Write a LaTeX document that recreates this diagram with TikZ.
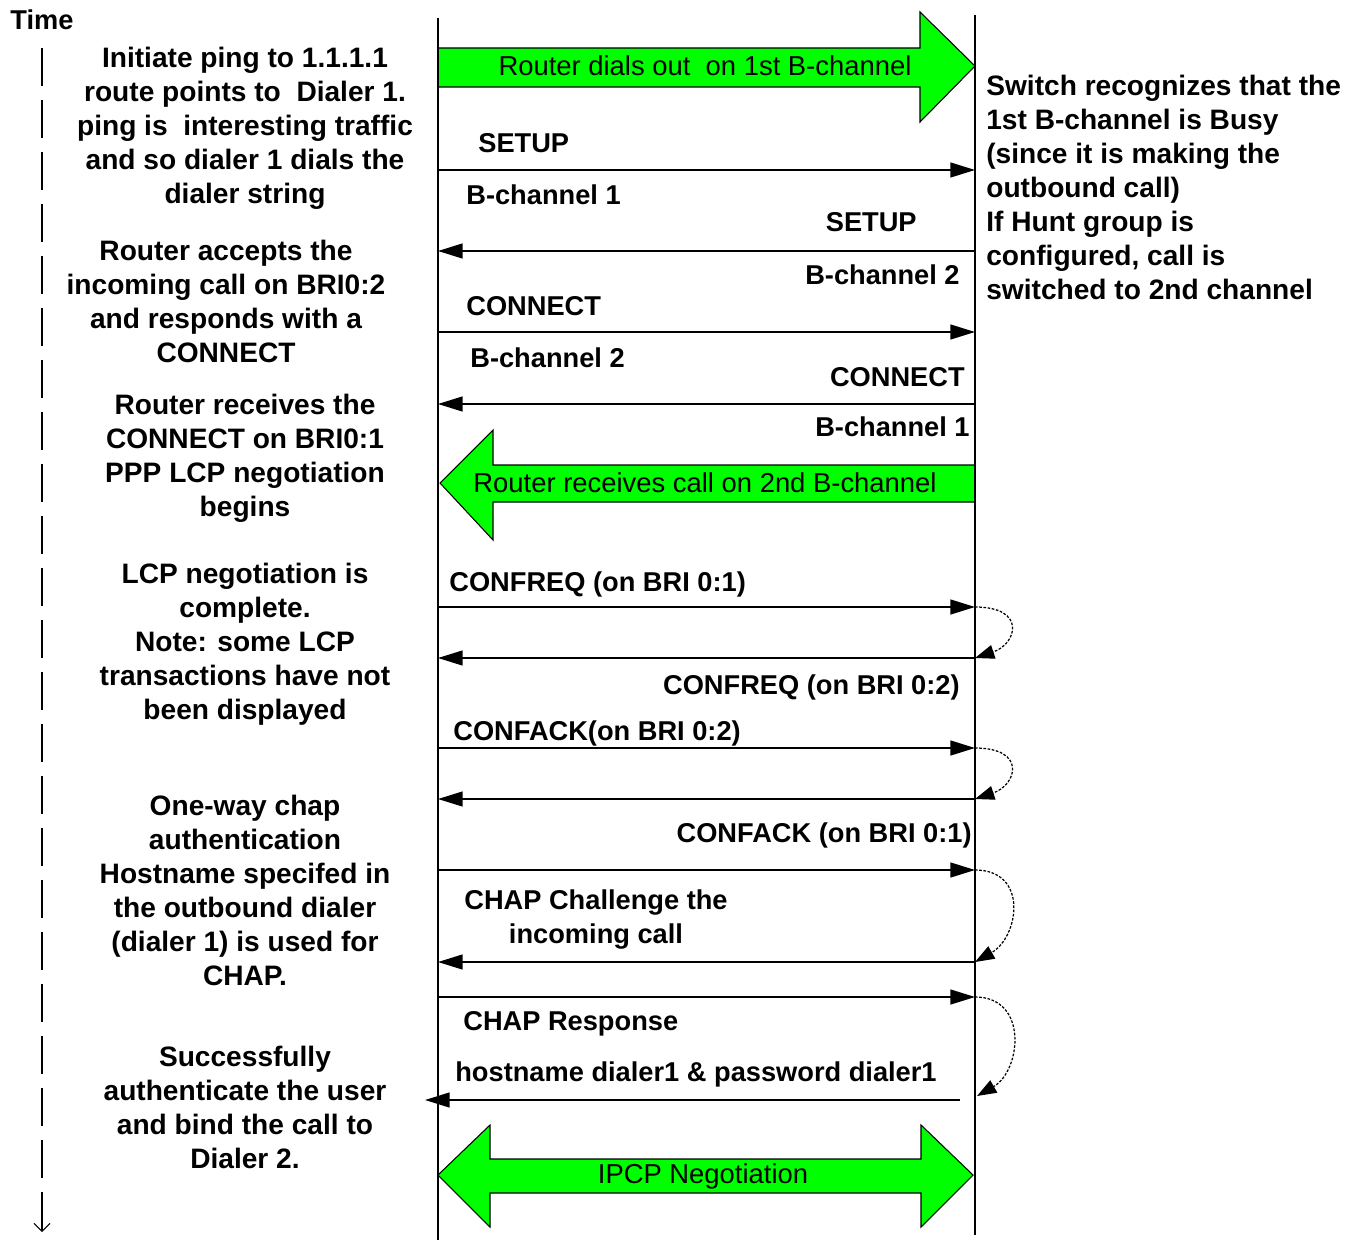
\documentclass[tikz,border=0pt]{standalone}
\usepackage{fontspec}
\setmainfont{Liberation Sans}
\usetikzlibrary{arrows.meta, calc}

\begin{document}
\begin{tikzpicture}[x=0.02cm, y=-0.02cm,
    note/.style={font=\bfseries\fontsize{16}{19.35}\selectfont, align=center, inner sep=0pt},
    msglbl/.style={font=\bfseries\fontsize{15.5}{19.35}\selectfont, inner sep=0pt},
    bandlbl/.style={font=\fontsize{15.6}{19}\selectfont, inner sep=0pt, anchor=base},
    band/.style={fill=green, draw=black, line width=0.6pt},
    life/.style={line width=1pt},
    msg/.style={line width=0.8pt, -{Triangle[length=14pt,width=8.5pt]}},
    loopback/.style={line width=0.7pt, dash pattern=on 1.5pt off 0.9pt,
        -{Triangle[length=11pt,width=8pt]}}]
    \useasboundingbox (0,0) rectangle (1358,1240);

    %--- time axis
    \node[msglbl, anchor=base west] (Time) at (10,30) {Time};
    \coordinate (TimeTop) at (42,48);
    \coordinate (TimeEnd) at (42,1232);
    \draw[line width=1pt, dash pattern=on 21.6pt off 8pt,
        -{Straight Barb[length=4.5pt,width=9pt,line width=0.6pt]}] (TimeTop) -- (TimeEnd);

    %--- green bands (drawn first, lifelines go over them)
    \draw[band] (438,48) -- (920,48) -- (920,12) -- (975,66) -- (920,122)
        -- (920,87) -- (438,87) -- cycle;
    \node[bandlbl] (Dial) at (705,76) {Router dials out\ \ on 1st B-channel};

    \draw[band] (975,465) -- (493,465) -- (493,430) -- (440,483) -- (493,540)
        -- (493,502) -- (975,502) -- cycle;
    \node[bandlbl] (Recv) at (705,492) {Router receives call on 2nd B-channel};

    \draw[band] (438,1175) -- (490,1125) -- (490,1159) -- (921,1159) -- (921,1125)
        -- (973,1175) -- (921,1227) -- (921,1193) -- (490,1193) -- (490,1227) -- cycle;
    \node[bandlbl] (IPCP) at (703,1183) {IPCP Negotiation};

    %--- lifelines: router (left) and switch (right)
    \coordinate (RtrTop) at (438,18);
    \coordinate (RtrEnd) at (438,1240);
    \coordinate (SwTop)  at (975,15);
    \coordinate (SwEnd)  at (975,1235);
    \draw[life] (RtrTop) -- (RtrEnd);
    \draw[life] (SwTop) -- (SwEnd);

    % end points of the messages on both lifelines
    \foreach \n/\y in {1/170, 2/251, 3/332, 4/404, 5/607, 6/658,
                       7/748, 8/799, 9/870, 10/962, 11/997} {
        \coordinate (L\n) at (438,\y);
        \coordinate (R\n) at (975,\y);
    }
    % last reply starts short and runs past the router line
    \coordinate (L12) at (425,1100);
    \coordinate (R12) at (960,1100);
    \coordinate (R12b) at (977,1096);

    %--- messages
    \draw[msg] (L1) -- (R1);
    \draw[msg] (R2) -- (L2);
    \draw[msg] (L3) -- (R3);
    \draw[msg] (R4) -- (L4);
    \draw[msg] (L5) -- (R5);
    \draw[msg] (R6) -- (L6);
    \draw[msg] (L7) -- (R7);
    \draw[msg] (R8) -- (L8);
    \draw[msg] (L9) -- (R9);
    \draw[msg] (R10) -- (L10);
    \draw[msg] (L11) -- (R11);
    \draw[msg] (R12) -- (L12);

    %--- switch turns each request round
    \draw[loopback] (R5) .. controls +(52,0) and +(42,-14) .. (R6);
    \draw[loopback] (R7) .. controls +(52,0) and +(42,-14) .. (R8);
    \draw[loopback] (R9) .. controls +(54,0) and +(44,-25) .. (R10);
    \draw[loopback] (R11) .. controls +(54,0) and +(44,-25) .. (R12b);

    %--- message labels
    \node[msglbl, anchor=base west] (Setup1)  at (478,153) {SETUP};
    \node[msglbl, anchor=base west] (Bch1a)   at (466,205) {B-channel 1};
    \node[msglbl, anchor=base east] (Setup2)  at (917,232) {SETUP};
    \node[msglbl, anchor=base east] (Bch2a)   at (960,284) {B-channel 2};
    \node[msglbl, anchor=base west] (Conn1)   at (466,315) {CONNECT};
    \node[msglbl, anchor=base west] (Bch2b)   at (470,367) {B-channel 2};
    \node[msglbl, anchor=base east] (Conn2)   at (965,386) {CONNECT};
    \node[msglbl, anchor=base east] (Bch1b)   at (970,436) {B-channel 1};
    \node[msglbl, anchor=base west] (Creq1)   at (449,591) {CONFREQ (on BRI 0:1)};
    \node[msglbl, anchor=base east] (Creq2)   at (960,694) {CONFREQ (on BRI 0:2)};
    \node[msglbl, anchor=base west] (Cack2)   at (453,740) {CONFACK(on BRI 0:2)};
    \node[msglbl, anchor=base east] (Cack1)   at (972,842) {CONFACK (on BRI 0:1)};
    \node[note, msglbl, anchor=north] (Chal)  at (596,889) {CHAP Challenge the\\incoming call};
    \node[msglbl, anchor=base west] (Resp)    at (463,1030) {CHAP Response};
    \node[msglbl, anchor=base west] (Host)    at (455,1081) {hostname dialer1 \& password dialer1};

    %--- notes on the left (router side)
    \node[note, anchor=north] (Ping) at (245,47)
        {Initiate ping to 1.1.1.1\\route points to\ \ Dialer 1.\\ping is\ \ interesting traffic\\and so dialer 1 dials the\\dialer string};
    \node[note, anchor=north] (Accept) at (226,240)
        {Router accepts the\\incoming call on BRI0:2\\and responds with a\\CONNECT};
    \node[note, anchor=north] (GotConn) at (245,394)
        {Router receives the\\CONNECT on BRI0:1\\PPP LCP negotiation\\begins};
    \node[note, anchor=north] (LcpDone) at (245,563)
        {LCP negotiation is\\complete.\\Note: some LCP\\transactions have not\\been displayed};
    \node[note, anchor=north] (Chap) at (245,795)
        {One-way chap\\authentication\\Hostname specifed in\\the outbound dialer\\(dialer 1) is used for\\CHAP.};
    \node[note, anchor=north] (Bind) at (245,1046)
        {Successfully\\authenticate the user\\and bind the call to\\Dialer 2.};

    %--- note on the right (switch side)
    \node[note, align=left, anchor=north west] (Busy) at (986,75)
        {Switch recognizes that the\\1st B-channel is Busy\\(since it is making the\\outbound call)\\If Hunt group is\\configured, call is\\switched to 2nd channel};
\end{tikzpicture}
\end{document}
